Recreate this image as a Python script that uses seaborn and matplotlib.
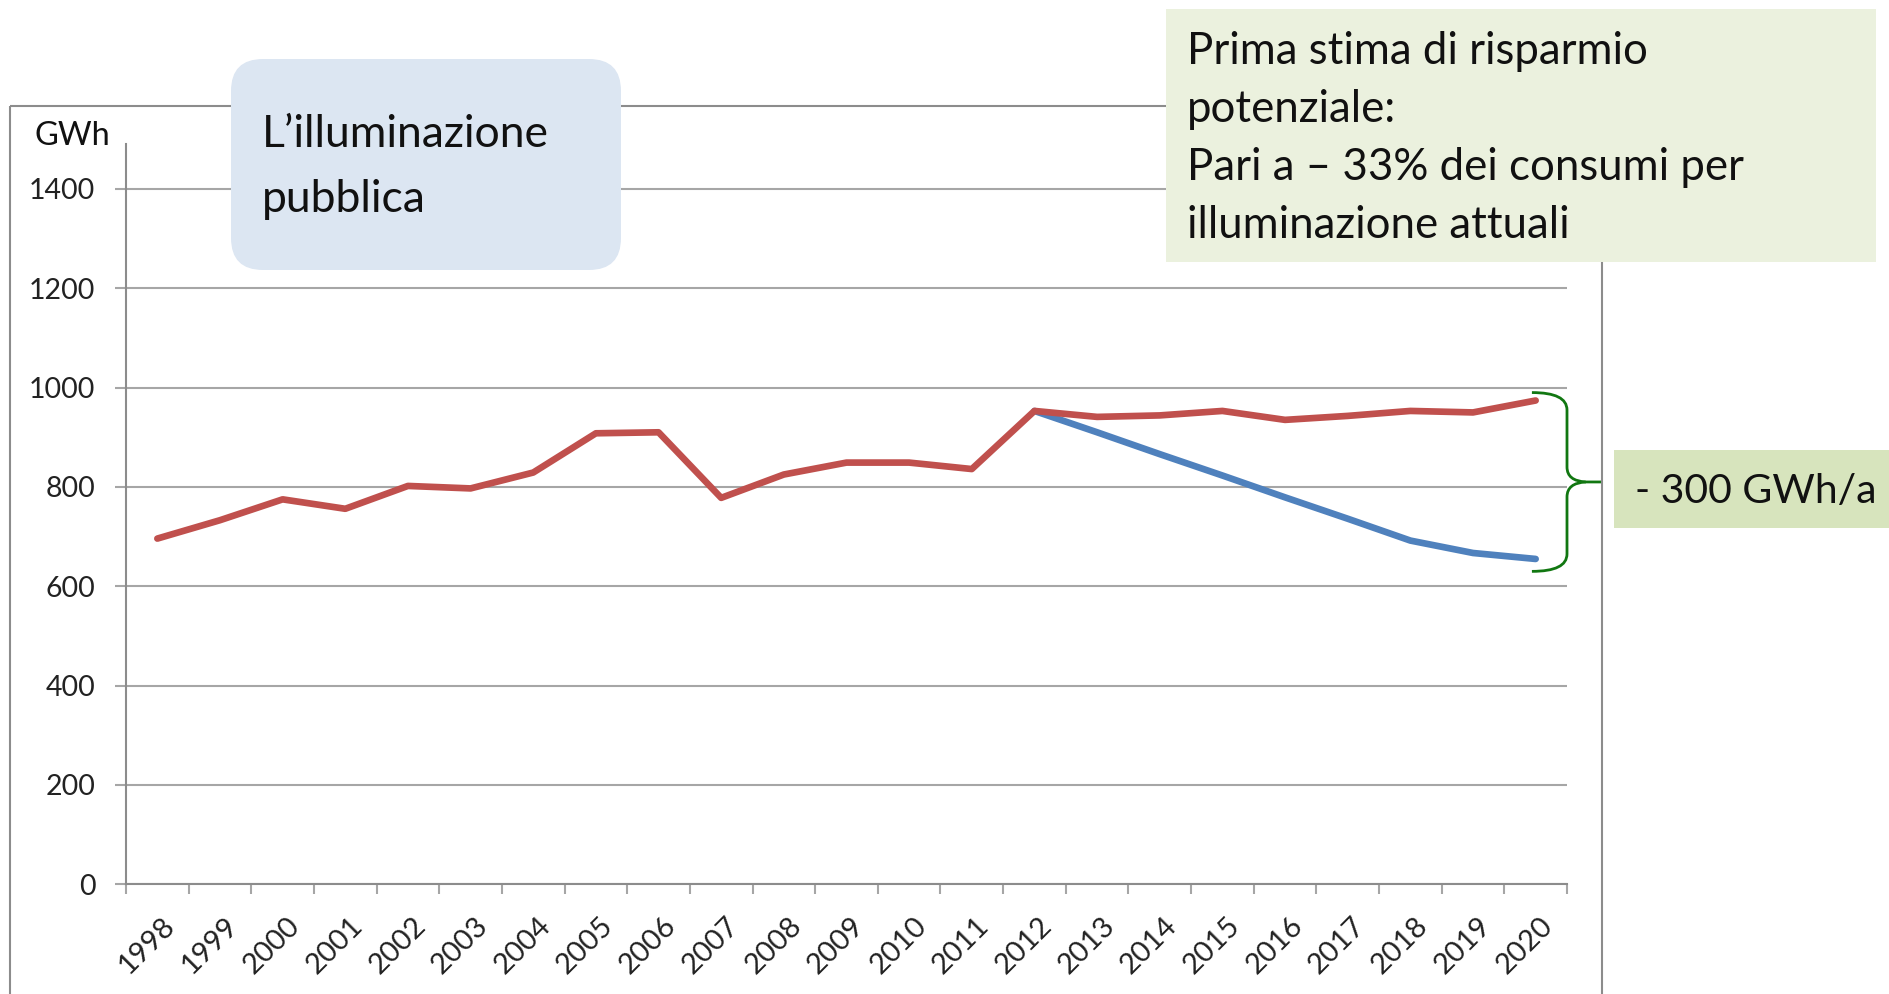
import matplotlib
matplotlib.use('Agg')
import matplotlib.pyplot as plt
import seaborn as sns
import pandas as pd
import numpy as np
from matplotlib.patches import FancyBboxPatch, Rectangle, PathPatch
from matplotlib.path import Path
from matplotlib.transforms import ScaledTranslation

# dati (GWh)
anni = list(range(1998, 2021))
consumi = [696, 733, 775, 756, 802, 797, 829, 908, 910, 778, 825, 849,
           849, 836, 953, 941, 944, 953, 935, 943, 953, 950, 974]
anni_obiettivo = list(range(2012, 2021))
obiettivo = [953, 910, 866, 823, 779, 736, 692, 667, 655]
y_ticks = [0, 200, 400, 600, 800, 1000, 1200, 1400]

df = pd.concat([
    pd.DataFrame({'anno': anni_obiettivo, 'GWh': obiettivo, 'serie': 'Obiettivo'}),
    pd.DataFrame({'anno': anni, 'GWh': consumi, 'serie': 'Consumi'}),
])

sns.set_style('white')
plt.rcParams['font.family'] = ['Lato', 'DejaVu Sans']

W, H = 1889, 994
fig = plt.figure(figsize=(W / 100, H / 100), dpi=100)
ax = fig.add_axes([126 / W, (H - 884.3) / H, (1567 - 126) / W, (884.3 - 144.2) / H])

grid_col = '#A6A6A6'
sns.lineplot(data=df, x='anno', y='GWh', hue='serie',
             hue_order=['Obiettivo', 'Consumi'],
             palette={'Obiettivo': '#4F81BD', 'Consumi': '#C0504D'},
             linewidth=4.8, legend=False, ax=ax)

ax.set_xlim(1997.5, 2020.5)
ax.set_ylim(0, 1490)
ax.set_xlabel('')
ax.set_ylabel('')
ax.set_yticks(y_ticks)
ax.set_yticklabels([str(v) for v in y_ticks], fontsize=20.5, color='#222222')
ax.yaxis.grid(True, color=grid_col, linewidth=1.5)
ax.set_axisbelow(True)
ax.tick_params(axis='y', length=8, width=1.5, color=grid_col, pad=14, left=True)

ax.set_xticks(anni)
ax.set_xticklabels([str(a) for a in anni], rotation=45, ha='right',
                   va='top', rotation_mode='anchor', fontsize=21, color='#222222')
ax.set_xticks(np.arange(1997.5, 2021, 1), minor=True)
ax.tick_params(axis='x', which='major', length=0, pad=20)
ax.tick_params(axis='x', which='minor', length=7, width=1.5, color=grid_col, bottom=True)
off = ScaledTranslation(3 / 72, 0, fig.dpi_scale_trans)
for lab in ax.get_xticklabels():
    lab.set_transform(lab.get_transform() + off)

for s in ['top', 'right']:
    ax.spines[s].set_visible(False)
for s in ['left', 'bottom']:
    ax.spines[s].set_color('#8C8C8C')
    ax.spines[s].set_linewidth(1.5)

# parentesi graffa sul risparmio 2020
top_v = consumi[-1] + 16
bot_v = obiettivo[-1] - 25
mid_v = (top_v + bot_v) / 2
xs, xv, xt = 2019.94, 2020.5, 2021.07
brace = [
    ([(xs, top_v), (xv, top_v), (xv, top_v - 35), (xv, mid_v + 30),
      (xv, mid_v + 2), (xv + 0.3, mid_v), (xt, mid_v)],
     [Path.MOVETO, Path.CURVE3, Path.CURVE3, Path.LINETO,
      Path.CURVE3, Path.CURVE3, Path.LINETO]),
    ([(xs, bot_v), (xv, bot_v), (xv, bot_v + 35), (xv, mid_v - 30),
      (xv, mid_v - 2), (xv + 0.3, mid_v)],
     [Path.MOVETO, Path.CURVE3, Path.CURVE3, Path.LINETO,
      Path.CURVE3, Path.CURVE3]),
]
for verts, codes in brace:
    ax.add_patch(PathPatch(Path(verts, codes), facecolor='none',
                           edgecolor='#117711', linewidth=2, clip_on=False))

# livello sovrapposto in pixel per cornice e riquadri
ov = fig.add_axes([0, 0, 1, 1], facecolor='none')
ov.set_xlim(0, W)
ov.set_ylim(H, 0)
ov.axis('off')

ov.add_patch(Rectangle((10, 106), 1592, 900, fill=False, edgecolor='#8C8C8C',
                       linewidth=1.5, clip_on=False))

ov.add_patch(FancyBboxPatch((231, 59), 390, 211,
                            boxstyle='round,pad=0,rounding_size=32',
                            facecolor='#DCE6F2', edgecolor='none'))
ov.text(262, 147, 'L’illuminazione', fontsize=32, va='baseline', color='#111111')
ov.text(262, 212, 'pubblica', fontsize=32, va='baseline', color='#111111')

ov.add_patch(Rectangle((1166, 9), 710, 253, facecolor='#EBF1DE', edgecolor='none'))
righe = ['Prima stima di risparmio', 'potenziale:',
         'Pari a – 33% dei consumi per', 'illuminazione attuali']
for i, r in enumerate(righe):
    ov.text(1187, 64 + i * 58, r, fontsize=31.5, va='baseline', color='#111111')

ov.add_patch(Rectangle((1614, 450), 280, 78, facecolor='#D7E4BD', edgecolor='none'))
ov.text(1635, 503, '- 300 GWh/a', fontsize=29.5, va='baseline', color='#111111')

ov.text(34, 145, 'GWh', fontsize=23.5, va='baseline', color='#111111')

fig.savefig('out.png', dpi=100)
